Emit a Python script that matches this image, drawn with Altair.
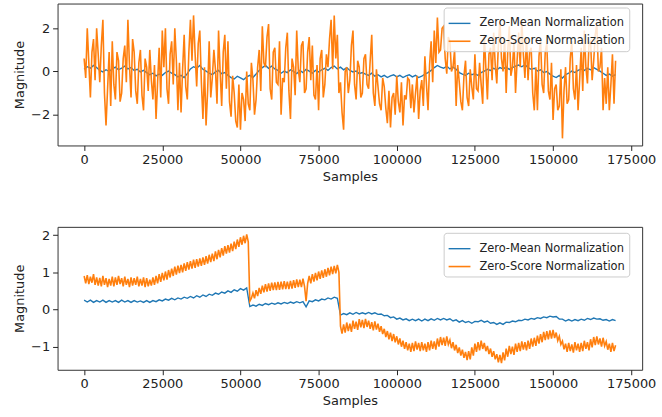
import altair as alt
import pandas as pd

SERIES = ["Zero-Mean Normalization", "Zero-Score Normalization"]
COLORS = ["#1f77b4", "#ff7f0e"]
X_TICKS = [0, 25000, 50000, 75000, 100000, 125000, 150000, 175000]

# sample positions: every 1000 samples (mean series), every 500 samples (score series)
SAMPLES = list(range(0, 170001, 1000))
SAMPLES_FINE = list(range(0, 170001, 500))

TOP_MEAN = [
    0.10, 0.22, 0.15, 0.28, 0.18, 0.05, -0.02, 0.08, 0.00, 0.12,
    0.20, 0.08, 0.15, 0.25, 0.12, 0.18, 0.05, 0.10, -0.02, 0.05,
    -0.05, -0.15, -0.08, -0.20, -0.12, -0.18, -0.05, 0.02, -0.08, -0.15,
    -0.25, -0.18, -0.28, -0.10, 0.12, 0.22, 0.15, 0.28, 0.10, 0.02,
    -0.08, -0.15, -0.02, 0.05, -0.10, -0.05, -0.18, -0.28, -0.35, -0.22,
    -0.30, -0.38, -0.25, -0.18, -0.28, -0.12, 0.05, 0.18, 0.28, 0.15,
    0.25, 0.12, 0.05, -0.08, 0.02, -0.05, 0.08, 0.00, -0.10, 0.05,
    -0.05, 0.10, 0.02, -0.08, 0.05, -0.02, 0.08, 0.15, 0.05, 0.18,
    0.25, 0.12, 0.20, 0.08, 0.18, 0.05, -0.02, 0.02, -0.10, -0.05,
    -0.12, -0.18, -0.08, -0.22, -0.15, -0.25, -0.18, -0.28, -0.20, -0.15,
    -0.25, -0.18, -0.28, -0.20, -0.15, -0.25, -0.18, -0.28, -0.22, -0.12,
    -0.05, 0.05, 0.18, 0.28, 0.20, 0.15, 0.25, 0.12, 0.20, 0.10,
    -0.05, -0.12, -0.18, -0.08, -0.15, -0.10, -0.18, -0.05, 0.02, 0.10,
    0.05, 0.15, 0.08, 0.18, 0.12, 0.20, 0.10, 0.18, 0.25, 0.30,
    0.22, 0.32, 0.18, 0.10, 0.15, 0.02, 0.08, -0.05, 0.00, -0.12,
    -0.22, -0.28, -0.18, -0.30, -0.15, -0.08, 0.02, -0.05, 0.05, 0.12,
    0.05, 0.15, 0.08, 0.18, 0.10, 0.02, -0.08, -0.18, -0.12, -0.22,
    -0.15,
]

TOP_SCORE = [
    0.6, -0.3, 2.0, 0.4, -1.2, 0.9, 1.5, -0.4, 2.0, 0.8,
    -0.5, 1.2, 2.4, -1.0, -2.5, -0.8, 0.9, -1.6, 1.4, -0.6,
    -1.3, 0.9, 0.5, -1.4, -1.0, 0.6, 1.2, -0.5, 2.4, 0.3,
    -1.2, 1.5, 0.9, -0.9, -1.5, 0.4, 1.0, -1.1, -1.8, 0.6,
    0.2, -0.9, 1.0, -0.4, -1.3, 0.3, -2.2, -0.5, 1.1, -1.2,
    1.9, 0.2, 2.0, -0.8, -1.5, 0.8, 1.4, -0.6, 2.0, 0.5,
    -1.8, 0.4, -1.9, 0.1, 1.7, -0.7, -1.3, 0.9, 2.4, 0.5,
    2.6, 0.8, -0.7, 1.3, 1.9, -0.5, -2.2, 0.2, -2.5, -0.9,
    1.4, -1.2, -0.3, 1.0, 0.1, -1.5, 1.9, 0.0, -1.6, 0.9,
    1.7, -0.8, 1.4, -1.4, -2.1, -0.2, -1.0, -2.3, -2.6, -0.6,
    -2.7, -1.0, -1.3, -2.3, 0.0, -1.5, -1.8, 0.4, -0.4, -2.0,
    -1.3, 0.2, 1.0, -0.9, 2.1, 0.4, 0.2, 1.6, 2.2, -0.8,
    -1.3, 0.9, 1.1, -0.5, -0.6, 1.4, -2.0, -0.3, -0.5, 1.1,
    1.8, -0.9, -2.2, 0.6, 0.2, -1.1, 1.9, 0.1, -0.5, 1.2,
    1.4, -1.0, -0.8, 0.9, 1.6, -0.4, 1.2, -1.1, -1.3, 0.3,
    -1.8, 0.6, 1.0, -1.2, -0.6, 0.8, 0.2, 1.5, 2.4, 0.1,
    2.6, 0.6, 1.7, -1.0, -0.5, -1.9, -2.7, 0.0, 0.2, -1.0,
    -0.4, 1.2, 1.9, -0.6, -1.3, 0.5, 0.2, -1.2, -1.0, 0.6,
    0.8, -0.6, -0.8, 0.5, 1.7, -1.0, -1.6, 0.1, -0.7, -1.5,
    -1.8, -0.3, -0.7, -1.7, -2.4, -0.9, -2.6, -1.2, -1.0, -2.0,
    -0.2, -1.4, -1.9, -0.5, -2.5, -1.1, -1.3, -0.3, -0.4, -1.7,
    -0.6, -1.9, -1.0, -0.2, -2.2, -0.9, -0.4, -1.6, 0.7, -0.6,
    -1.8, 0.3, 1.4, -0.5, 1.9, 0.4, 2.5, 0.9, 1.0, 2.0,
    2.1, 0.6, -0.1, 1.6, 1.4, 0.0, 0.2, 1.0, -1.6, 0.3,
    -0.5, -1.4, -1.8, -0.2, 0.5, -1.2, -1.6, 0.1, -0.7, -1.3,
    0.8, -0.8, -0.9, 0.4, -0.6, -1.5, 1.7, 0.2, -1.3, 0.8,
    1.1, -0.4, 1.8, 0.3, -0.55, 1.2, 2.4, 0.6, 0.0, 1.5,
    -1.0, 0.9, 2.1, -0.2, 0.2, 1.4, -1.0, 0.5, 1.8, 0.2,
    2.4, 0.8, -0.3, 1.6, -0.4, 0.9, 1.1, -1.0, -1.8, 0.2,
    -1.8, 0.7, 1.5, -0.6, -1.0, 0.9, 1.3, -0.9, -1.3, 0.4,
    -2.25, -0.8, -0.6, -1.8, -1.6, 0.1, -3.1, -0.9, 0.2, -1.5,
    -1.3, 0.6, 1.4, -0.8, -1.3, 0.3, -1.8, -0.4, 1.1, -0.9,
    1.9, 0.2, -0.55, 1.3, 1.4, -0.4, 0.5, 1.7, 2.2, 0.0,
    0.2, 1.1, -1.8, -0.3, -1.5, 0.2, -1.8, -0.6, 0.8, -1.5,
    0.5,
]

BOT_MEAN = [
    0.25, 0.20, 0.25, 0.19, 0.24, 0.20, 0.25, 0.19, 0.24, 0.20,
    0.24, 0.19, 0.25, 0.20, 0.24, 0.19, 0.24, 0.20, 0.23, 0.19,
    0.24, 0.19, 0.24, 0.21, 0.26, 0.23, 0.28, 0.25, 0.30, 0.26,
    0.31, 0.28, 0.33, 0.30, 0.35, 0.31, 0.37, 0.33, 0.39, 0.35,
    0.41, 0.38, 0.44, 0.41, 0.47, 0.44, 0.50, 0.46, 0.53, 0.49,
    0.56, 0.52, 0.58, 0.08, 0.12, 0.09, 0.14, 0.11, 0.16, 0.13,
    0.17, 0.14, 0.18, 0.15, 0.19, 0.16, 0.20, 0.17, 0.21, 0.18,
    0.21, 0.07, 0.23, 0.21, 0.26, 0.23, 0.28, 0.26, 0.31, 0.28,
    0.33, 0.30, -0.15, -0.11, -0.14, -0.09, -0.13, -0.08, -0.12, -0.09,
    -0.12, -0.08, -0.12, -0.09, -0.13, -0.12, -0.17, -0.16, -0.22, -0.20,
    -0.26, -0.23, -0.28, -0.25, -0.30, -0.26, -0.30, -0.26, -0.31, -0.26,
    -0.30, -0.25, -0.29, -0.24, -0.28, -0.24, -0.28, -0.25, -0.31, -0.28,
    -0.34, -0.30, -0.35, -0.32, -0.37, -0.32, -0.33, -0.29, -0.34, -0.31,
    -0.37, -0.35, -0.40, -0.36, -0.40, -0.34, -0.35, -0.31, -0.33, -0.29,
    -0.30, -0.26, -0.28, -0.24, -0.26, -0.22, -0.24, -0.20, -0.22, -0.18,
    -0.20, -0.19, -0.26, -0.26, -0.31, -0.27, -0.31, -0.27, -0.30, -0.26,
    -0.29, -0.24, -0.27, -0.23, -0.26, -0.25, -0.29, -0.27, -0.31, -0.27,
    -0.30,
]

BOT_SCORE = [
    0.90, 0.70, 0.92, 0.68, 0.88, 0.72, 0.95, 0.66, 0.86, 0.64,
    0.85, 0.62, 0.90, 0.66, 0.84, 0.60, 0.82, 0.64, 0.88, 0.62,
    0.86, 0.66, 0.90, 0.68, 0.84, 0.62, 0.88, 0.66, 0.82, 0.60,
    0.86, 0.64, 0.84, 0.66, 0.88, 0.62, 0.82, 0.64, 0.86, 0.60,
    0.84, 0.62, 0.80, 0.64, 0.86, 0.66, 0.90, 0.70, 0.95, 0.74,
    0.98, 0.78, 1.02, 0.80, 1.06, 0.86, 1.10, 0.90, 1.15, 0.94,
    1.18, 0.98, 1.20, 1.00, 1.24, 1.04, 1.27, 1.07, 1.30, 1.10,
    1.34, 1.12, 1.35, 1.15, 1.37, 1.17, 1.40, 1.20, 1.43, 1.23,
    1.47, 1.27, 1.50, 1.30, 1.56, 1.35, 1.60, 1.40, 1.65, 1.45,
    1.70, 1.50, 1.73, 1.53, 1.77, 1.57, 1.82, 1.62, 1.88, 1.68,
    1.94, 1.74, 1.98, 1.78, 2.02, 1.82, 0.22, 0.30, 0.44, 0.30,
    0.52, 0.36, 0.58, 0.42, 0.64, 0.46, 0.68, 0.48, 0.70, 0.50,
    0.72, 0.52, 0.73, 0.52, 0.74, 0.53, 0.75, 0.54, 0.76, 0.55,
    0.75, 0.55, 0.77, 0.56, 0.79, 0.58, 0.81, 0.60, 0.80, 0.60,
    0.83, 0.62, 0.22, 0.70, 0.90, 0.70, 0.95, 0.75, 0.98, 0.78,
    1.02, 0.82, 1.05, 0.85, 1.08, 0.88, 1.12, 0.92, 1.15, 0.95,
    1.17, 0.97, 1.20, 1.00, -0.45, -0.65, -0.40, -0.62, -0.35, -0.58,
    -0.38, -0.60, -0.30, -0.52, -0.33, -0.55, -0.26, -0.48, -0.28, -0.50,
    -0.25, -0.47, -0.30, -0.52, -0.34, -0.56, -0.32, -0.54, -0.38, -0.60,
    -0.45, -0.66, -0.52, -0.74, -0.58, -0.80, -0.62, -0.85, -0.66, -0.88,
    -0.72, -0.94, -0.78, -1.00, -0.84, -1.06, -0.88, -1.10, -0.92, -1.14,
    -0.90, -1.12, -0.86, -1.08, -0.90, -1.12, -0.88, -1.10, -0.92, -1.14,
    -0.88, -1.10, -0.84, -1.06, -0.86, -1.08, -0.78, -1.00, -0.74, -0.96,
    -0.76, -0.98, -0.72, -0.94, -0.82, -1.04, -0.88, -1.10, -0.95, -1.17,
    -1.02, -1.24, -1.08, -1.30, -1.14, -1.36, -1.12, -1.34, -1.02, -1.24,
    -0.92, -1.14, -0.88, -1.10, -0.84, -1.06, -0.90, -1.12, -0.98, -1.20,
    -1.05, -1.27, -1.12, -1.34, -1.20, -1.42, -1.22, -1.44, -1.15, -1.37,
    -1.05, -1.27, -0.98, -1.20, -1.00, -1.22, -0.92, -1.14, -0.90, -1.12,
    -0.86, -1.08, -0.88, -1.10, -0.84, -1.06, -0.78, -1.00, -0.76, -0.98,
    -0.70, -0.92, -0.66, -0.88, -0.60, -0.82, -0.58, -0.80, -0.56, -0.78,
    -0.55, -0.77, -0.62, -0.84, -0.72, -0.94, -0.85, -1.07, -0.92, -1.14,
    -0.90, -1.12, -0.94, -1.16, -0.88, -1.10, -0.92, -1.14, -0.90, -1.12,
    -0.84, -1.06, -0.88, -1.10, -0.80, -1.02, -0.74, -0.96, -0.72, -0.94,
    -0.78, -1.00, -0.76, -0.98, -0.86, -1.08, -0.92, -1.14, -0.90, -1.12,
    -0.96,
]


def frame(mean, score):
    rows = []
    for s, v in zip(SAMPLES, mean):
        rows.append({"Samples": s, "Magnitude": v, "series": SERIES[0]})
    for s, v in zip(SAMPLES_FINE, score):
        rows.append({"Samples": s, "Magnitude": v, "series": SERIES[1]})
    return pd.DataFrame(rows)


def panel(df, ydom, yticks, h, ly):
    legend = alt.Legend(
        title=None, orient="none", legendX=389, legendY=ly,
        fillColor="rgba(255,255,255,0.8)", strokeColor="#cccccc",
        cornerRadius=3, padding=4, labelFontSize=11.5, labelColor="#222222",
        labelFont="DejaVu Sans", symbolType="stroke", symbolSize=484,
        labelOffset=8, rowPadding=0,
    )
    return alt.Chart(df).mark_line(clip=True).encode(
        x=alt.X("Samples:Q",
                scale=alt.Scale(domain=[-8500, 178500], nice=False, zero=False),
                axis=alt.Axis(values=X_TICKS, format="d", title="Samples")),
        y=alt.Y("Magnitude:Q",
                scale=alt.Scale(domain=ydom, nice=False, zero=False),
                axis=alt.Axis(values=yticks, title="Magnitude")),
        color=alt.Color("series:N",
                        scale=alt.Scale(domain=SERIES, range=COLORS),
                        legend=legend),
        strokeWidth=alt.StrokeWidth("series:N",
                                    scale=alt.Scale(domain=SERIES, range=[1.4, 1.6]),
                                    legend=legend),
    ).properties(width=589, height=h)


top = panel(frame(TOP_MEAN, TOP_SCORE), [-3.43, 3.15], [-2, 0, 2], 143, 4)
bottom = panel(frame(BOT_MEAN, BOT_SCORE), [-1.62, 2.22], [-1, 0, 1, 2], 144, 6)

chart = alt.vconcat(top, bottom, spacing=42).resolve_scale(
    color="independent", strokeWidth="independent"
).resolve_legend(color="independent", strokeWidth="independent").properties(
    padding={"left": 13, "top": 1, "right": 5, "bottom": 5}
).configure_view(
    stroke="#333333", strokeWidth=1
).configure_axis(
    labelFont="DejaVu Sans", titleFont="DejaVu Sans",
    labelFontSize=13, titleFontSize=13, titleFontWeight="normal",
    labelColor="#222222", titleColor="#222222", tickColor="#222222",
    domain=False, grid=False, tickSize=5, labelPadding=3, titlePadding=4,
)

chart.save("out.html", embed_options={"renderer": "svg", "actions": False})
